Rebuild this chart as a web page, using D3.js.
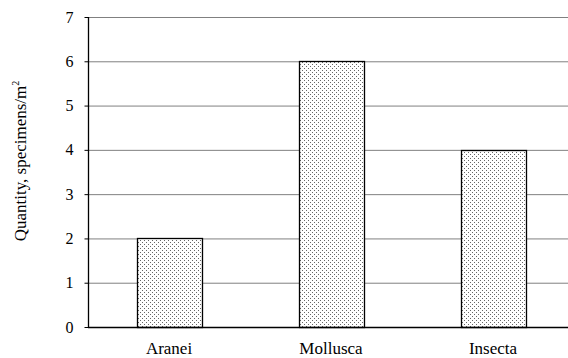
<!DOCTYPE html>
<html><head><meta charset="utf-8">
<script src="https://cdn.jsdelivr.net/npm/d3@7"></script>
<style>body{margin:0;background:#fff}svg{display:block}</style>
</head><body>
<script>
const categories = ["Aranei", "Mollusca", "Insecta"];
const values = [2, 6, 4];
const yTicks = [0, 1, 2, 3, 4, 5, 6, 7];

const FONT = "'Liberation Serif', 'Times New Roman', Times, serif";
const W = 568, H = 358;
const m = {left: 88, top: 17, bottom: 31};
const svg = d3.select("body").append("svg").attr("width", W).attr("height", H);
const defs = svg.append("defs");
const pat = defs.append("pattern").attr("id", "dots").attr("patternUnits", "userSpaceOnUse")
  .attr("width", 4).attr("height", 4);
pat.append("rect").attr("width", 4).attr("height", 4).attr("fill", "#fff");
pat.append("rect").attr("x", 0).attr("y", 0).attr("width", 1).attr("height", 1).attr("fill", "#666");
pat.append("rect").attr("x", 2).attr("y", 2).attr("width", 1).attr("height", 1).attr("fill", "#666");

const x = d3.scaleBand().domain(categories).range([m.left, m.left + 3 * 162]).paddingInner(0.6).paddingOuter(0.3);
const y = d3.scaleLinear().domain([0, 7]).range([H - m.bottom, m.top]);

// grid
svg.append("g").selectAll("line").data(yTicks.filter(d => d > 0)).join("line")
  .attr("x1", m.left).attr("x2", W).attr("y1", d => y(d) + 0.5).attr("y2", d => y(d) + 0.5)
  .attr("stroke", "#808080").attr("stroke-width", 1);

// bars
svg.append("g").selectAll("rect").data(values).join("rect")
  .attr("x", (d, i) => Math.round(x(categories[i])) + 0.5)
  .attr("y", d => Math.round(y(d)) + 0.5)
  .attr("width", Math.round(x.bandwidth()))
  .attr("height", d => Math.round(y(0)) - Math.round(y(d)))
  .attr("fill", "url(#dots)").attr("stroke", "#000").attr("stroke-width", 1.3);

// y axis
const ya = svg.append("g").attr("transform", `translate(${m.left + 0.5},0)`)
  .call(d3.axisLeft(y).tickValues(yTicks).tickSize(4).tickPadding(11).tickFormat(d3.format("d")));
ya.attr("font-family", null).attr("font-size", null);
ya.select(".domain").attr("stroke", "#000").attr("stroke-width", 1.3).attr("d", `M0,${y(7)}V${y(0)}`);
ya.selectAll(".tick line").attr("stroke", "#000");
ya.selectAll("text").style("font-family", FONT).style("font-size", "16px").attr("fill", "#000");

// x axis
const xa = svg.append("g").attr("transform", `translate(0,${y(0) + 0.5})`)
  .call(d3.axisBottom(x).tickSize(0).tickPadding(14));
xa.attr("font-family", null).attr("font-size", null);
xa.select(".domain").attr("stroke", "#000").attr("stroke-width", 1.3).attr("d", `M${m.left},0H${W}`);
xa.selectAll("text").style("font-family", FONT).style("font-size", "17px").attr("fill", "#000");

// y label
const yl = svg.append("text").attr("transform", "translate(26,161) rotate(-90)")
  .attr("text-anchor", "middle").style("font-family", FONT).style("font-size", "17px");
yl.append("tspan").text("Quantity, specimens/m");
yl.append("tspan").style("font-size", "10px").attr("dy", -7).text("2");
</script>
</body></html>
